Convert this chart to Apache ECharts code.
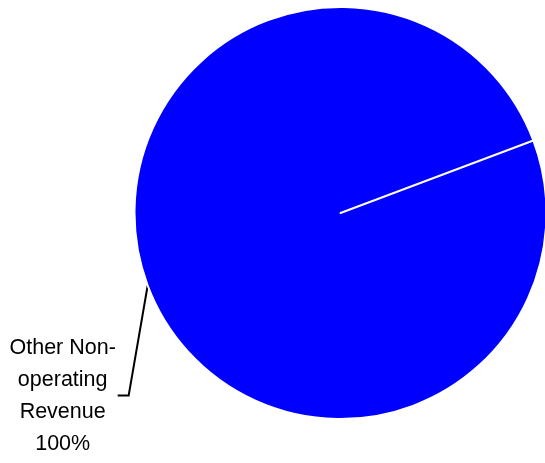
<!DOCTYPE html>
<html>
<head>
<meta charset="utf-8">
<script src="https://cdn.jsdelivr.net/npm/echarts@6/dist/echarts.min.js"></script>
<style>
  html, body { margin: 0; padding: 0; background: #ffffff; }
  #chart { width: 545px; height: 463px; }
</style>
</head>
<body>
<div id="chart"></div>
<script>
// Revenue breakdown
const categories = ['Other Non-operating Revenue', 'Operating Revenue'];
const values = [100, 0];
const labelTexts = ['Other Non-\noperating\nRevenue', 'Operating\nRevenue'];
const colors = ['#0000ff', '#ff0000'];

const chart = echarts.init(document.getElementById('chart'), null, { renderer: 'canvas' });

const seriesData = categories.map((name, i) => ({
  name: name,
  value: values[i],
  itemStyle: { color: colors[i] },
  label: { show: values[i] > 0 },
  labelLine: { show: values[i] > 0 }
}));

chart.setOption({
  animation: false,
  backgroundColor: '#ffffff',
  series: [{
    type: 'pie',
    center: [340.5, 213],
    radius: [0, 206],
    startAngle: 20.6,
    clockwise: true,
    avoidLabelOverlap: false,
    silent: true,
    itemStyle: { borderColor: '#ffffff', borderWidth: 2 },
    label: {
      position: 'outside',
      color: '#000000',
      fontFamily: '"Liberation Sans", Arial, sans-serif',
      fontSize: 21.5,
      lineHeight: 32,
      align: 'center',
      formatter: p => labelTexts[p.dataIndex] + '\n' + Math.round(p.percent) + '%'
    },
    labelLine: {
      show: true,
      length: 20,
      length2: 10,
      lineStyle: { color: '#000000', width: 2 }
    },
    // leader drops steeply from the rim, then a short horizontal tick to the text
    labelLayout: function (params) {
      const pts = params.labelLinePoints;
      if (!pts) return {};
      const start = pts[0];
      const elbow = [start[0] - 19, start[1] + 110];
      const end = [elbow[0] - 11, elbow[1]];
      return {
        x: end[0] - 55,
        y: end[1] + 1,
        align: 'center',
        verticalAlign: 'middle',
        labelLinePoints: [start, elbow, end]
      };
    },
    data: seriesData
  }]
});
</script>
</body>
</html>
